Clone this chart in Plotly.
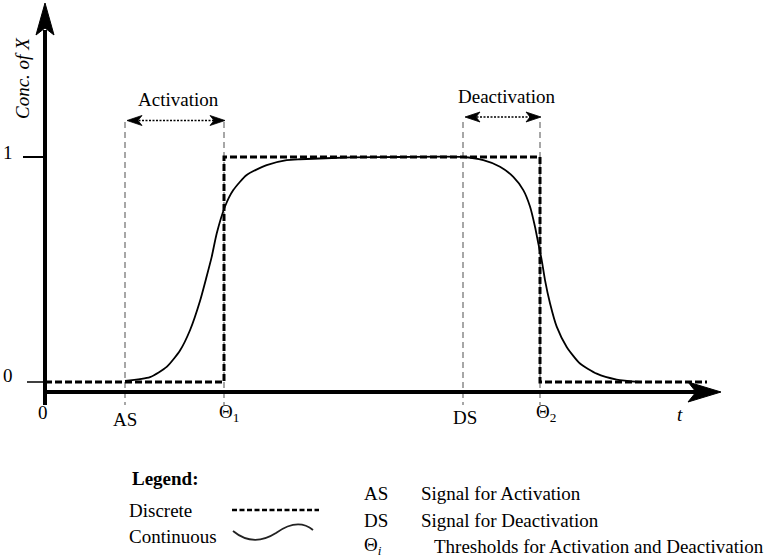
import plotly.graph_objects as go

# ---------------- data ----------------
discrete_t = [0.0, 1.79, 1.79, 4.95, 4.95, 6.62]
discrete_x = [0, 0, 1, 1, 0, 0]

continuous_t = [0.80, 1.05, 1.217, 1.35, 1.45, 1.55, 1.617, 1.667, 1.717, 1.80, 1.883,
                2.017, 2.217, 2.417, 2.55, 3.05, 3.55, 4.18, 4.383, 4.55, 4.683, 4.783,
                4.85, 4.90, 4.933, 4.967, 5.00, 5.05, 5.117, 5.217, 5.35, 5.517, 5.717, 5.95]
continuous_x = [0.005, 0.022, 0.067, 0.14, 0.23, 0.36, 0.47, 0.556, 0.66, 0.78, 0.853,
                0.92, 0.964, 0.986, 0.99, 0.998, 1.0, 1.0, 0.986, 0.957, 0.912, 0.853,
                0.78, 0.69, 0.616, 0.542, 0.453, 0.35, 0.246, 0.156, 0.082, 0.037, 0.011, 0.0]

marker_names = ["AS", "Θ<sub>1</sub>", "DS", "Θ<sub>2</sub>"]
marker_t = [0.80, 1.79, 4.18, 4.95]

y_tick_vals = [0, 1]
y_tick_text = ["0", "1"]

legend_symbols = ["AS", "DS", "Θ<sub><i>i</i></sub>"]
legend_meanings = ["Signal for Activation", "Signal for Deactivation",
                   "Thresholds for Activation and Deactivation"]

# ---------------- geometry helpers (pixel -> data) ----------------
W, H = 777, 558
X0, XS = 45.0, 100.0
Y0, YS = 382.0, 225.0


def X(px):
    return (px - X0) / XS


def Y(py):
    return (Y0 - py) / YS


FONT = "Liberation Serif, DejaVu Serif, serif"
FS = 19

fig = go.Figure()

# discrete
fig.add_trace(go.Scatter(x=discrete_t, y=discrete_x, mode="lines",
                         line=dict(color="black", width=3, dash="7px,3px"),
                         hoverinfo="skip", showlegend=False))
# continuous
fig.add_trace(go.Scatter(x=continuous_t, y=continuous_x, mode="lines",
                         line=dict(color="black", width=1.8, shape="spline", smoothing=0.6),
                         hoverinfo="skip", showlegend=False))

shapes = []
# gray dashed marker lines
for t in marker_t:
    shapes.append(dict(type="line", xref="x", yref="y", x0=t, x1=t, y0=Y(122), y1=Y(405),
                       line=dict(color="#8a8a8a", width=1.5, dash="6px,4px"), layer="below"))

# axes
shapes.append(dict(type="line", xref="x", yref="y", x0=X(45), x1=X(45), y0=Y(405), y1=Y(30),
                   line=dict(color="black", width=4)))
shapes.append(dict(type="line", xref="x", yref="y", x0=X(43), x1=X(700), y0=Y(392), y1=Y(392),
                   line=dict(color="black", width=4)))


def path(pts):
    return "M " + " L ".join(f"{X(a):.5f},{Y(b):.5f}" for a, b in pts) + " Z"


# axis arrowheads (stealth)
shapes.append(dict(type="path", xref="x", yref="y",
                   path=path([(45, 3), (36, 35), (45, 28), (54, 35)]),
                   fillcolor="black", line=dict(color="black", width=1)))
shapes.append(dict(type="path", xref="x", yref="y",
                   path=path([(721, 392), (688, 382), (696, 392), (688, 402)]),
                   fillcolor="black", line=dict(color="black", width=1)))

# y ticks
for v in y_tick_vals:
    x_start = 23 if v == 1 else 27
    shapes.append(dict(type="line", xref="x", yref="y", x0=X(x_start), x1=X(45), y0=v, y1=v,
                       line=dict(color="black", width=2 if v == 1 else 1.5)))


# span arrows (dotted with stealth heads)
def span(x_left, x_right, py):
    shapes.append(dict(type="line", xref="x", yref="y", x0=X(x_left + 8), x1=X(x_right - 8),
                       y0=Y(py), y1=Y(py), line=dict(color="black", width=1.6, dash="2px,1.5px")))
    shapes.append(dict(type="path", xref="x", yref="y",
                       path=path([(x_left, py), (x_left + 15, py - 5), (x_left + 11, py),
                                  (x_left + 15, py + 5)]),
                       fillcolor="black", line=dict(color="black", width=0.8)))
    shapes.append(dict(type="path", xref="x", yref="y",
                       path=path([(x_right, py), (x_right - 15, py - 5), (x_right - 11, py),
                                  (x_right - 15, py + 5)]),
                       fillcolor="black", line=dict(color="black", width=0.8)))


span(127, 225, 120.5)
span(465, 541, 117)

# legend samples
shapes.append(dict(type="line", xref="x", yref="y", x0=X(232), x1=X(319), y0=Y(510), y1=Y(510),
                   line=dict(color="black", width=2.5, dash="5px,2.5px")))
shapes.append(dict(type="path", xref="x", yref="y",
                   path=(f"M {X(233):.5f},{Y(531):.5f} C {X(250):.5f},{Y(545):.5f} "
                         f"{X(265):.5f},{Y(540):.5f} {X(276):.5f},{Y(533):.5f} "
                         f"C {X(290):.5f},{Y(523):.5f} {X(302):.5f},{Y(521):.5f} {X(313):.5f},{Y(530):.5f}"),
                   line=dict(color="#222", width=1.8)))

ann = []


def text(s, px, py, size=FS, xanchor="center", **kw):
    ann.append(dict(text=s, x=X(px), y=Y(py), xref="x", yref="y", showarrow=False,
                    xanchor=xanchor, yanchor="middle",
                    font=dict(family=FONT, size=size, color="black"), **kw))


# y tick labels
text(y_tick_text[1], 8, 152)
text(y_tick_text[0], 8, 375)
# x labels
text("0", 43, 412)
label_pos = [(125, 419), (229, 413), (465, 417), (546, 413)]
for name, (px, py) in zip(marker_names, label_pos):
    text(name, px, py)
text("<i>t</i>", 680, 414)
text("<i>Conc. of X</i>", 22, 78, textangle=-90)

text("Activation", 178, 99)
text("Deactivation", 507, 96)

# legend
text("<b>Legend:</b>", 130, 478, xanchor="left")
text("Discrete", 127, 510, xanchor="left")
text("Continuous", 127, 536, xanchor="left")
sym_y = [493, 520, 546]
mean_x = [419, 419, 432]
for s, m, py, mx in zip(legend_symbols, legend_meanings, sym_y, mean_x):
    text(s, 362, py, xanchor="left")
    text(m, mx, py, xanchor="left")

fig.update_layout(
    width=W, height=H,
    margin=dict(l=0, r=0, t=0, b=0),
    paper_bgcolor="white", plot_bgcolor="white",
    xaxis=dict(range=[X(0), X(W)], visible=False, fixedrange=True),
    yaxis=dict(range=[Y(H), Y(0)], visible=False, fixedrange=True),
    shapes=shapes, annotations=ann, showlegend=False,
)

fig.write_html("out.html", config={"displayModeBar": False},
               post_script="document.body.style.margin='0';document.body.style.overflow='hidden';")
